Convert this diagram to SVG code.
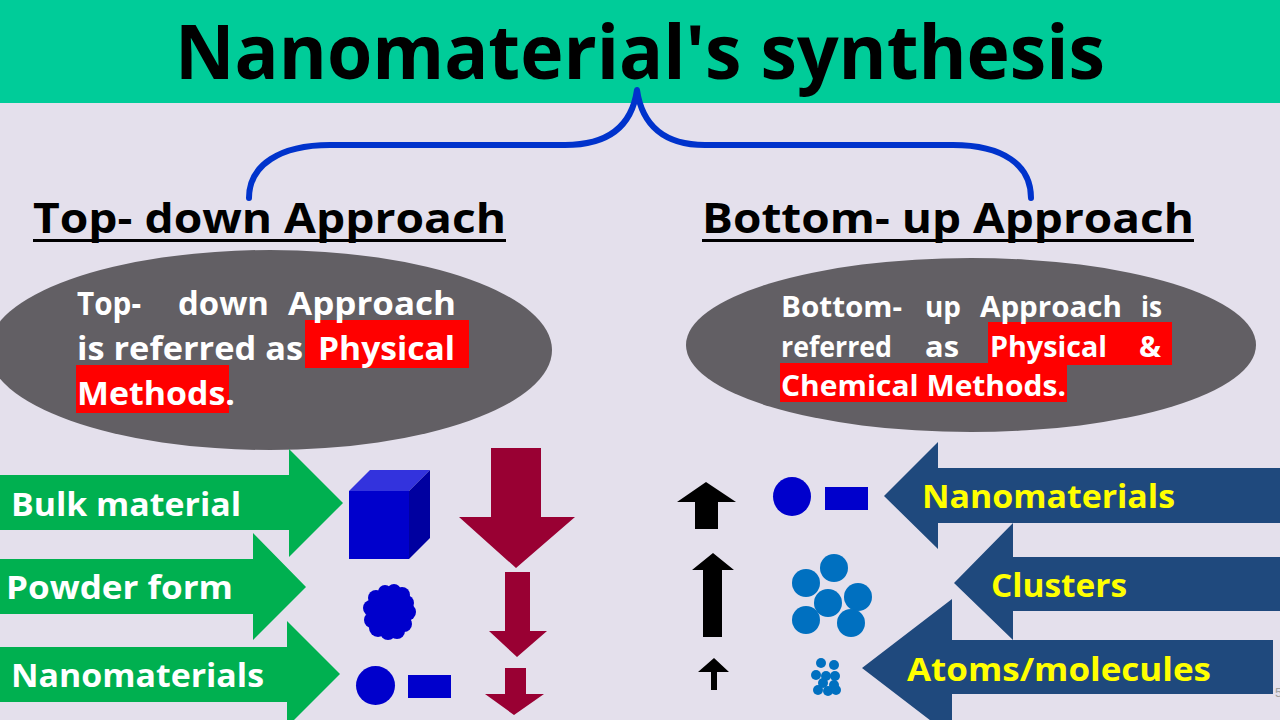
<svg xmlns="http://www.w3.org/2000/svg" width="1280" height="720" viewBox="0 0 1280 720">
  <style>
    .bold { font-family: "Open Sans", "Noto Sans", "Liberation Sans", sans-serif; font-weight: 700; }
    .title { font-size: 76px; fill: #000000; }
    .head { font-size: 42px; fill: #000000; }
    .ell { fill: #625F64; }
    .etxt { fill: #FFFFFF; }
    .hl { fill: #FF0000; }
    .garrow { fill: #00B050; }
    .barrow { fill: #1F497D; }
    .wlbl { font-size: 33px; fill: #FFFFFF; }
    .ylbl { font-size: 33px; fill: #FFFF00; }
    .down { fill: #990033; }
    .up { fill: #000000; }
    .nano { fill: #0000CC; }
    .clu { fill: #0070C0; }
  </style>

  <!-- page -->
  <rect x="0" y="0" width="1280" height="720" fill="#E4E0EC"/>

  <!-- title band -->
  <g id="title">
    <rect x="0" y="0" width="1280" height="103" fill="#00CC99"/>
    <text class="bold title" x="175" y="79" textLength="930" lengthAdjust="spacingAndGlyphs">Nanomaterial's synthesis</text>
  </g>

  <!-- brace splitting the title into the two approaches -->
  <g id="connectors">
    <path d="M249,198 C249,165 280,145 330,145 L565,145 C610,145 632,125 637,90 C642,125 664,145 705,145 L953,145 C1003,145 1031,165 1031,198"
          fill="none" stroke="#0033CC" stroke-width="6" stroke-linecap="round" stroke-linejoin="round"/>
  </g>

  <!-- approach headings -->
  <g id="heading-top-down">
    <text class="bold head" x="33" y="233" textLength="473" lengthAdjust="spacingAndGlyphs">Top- down Approach</text>
    <rect x="33" y="239" width="473" height="3" fill="#000000"/>
  </g>
  <g id="heading-bottom-up">
    <text class="bold head" x="702" y="233" textLength="492" lengthAdjust="spacingAndGlyphs">Bottom- up Approach</text>
    <rect x="702" y="239" width="492" height="3" fill="#000000"/>
  </g>

  <!-- top-down description -->
  <g id="note-top-down">
    <ellipse class="ell" cx="270" cy="350" rx="282" ry="100"/>
    <rect class="hl" x="305" y="320" width="164" height="48"/>
    <rect class="hl" x="76" y="365" width="153" height="48"/>
    <g class="bold etxt" font-size="32">
      <text x="77" y="315" textLength="64" lengthAdjust="spacingAndGlyphs">Top-</text>
      <text x="178" y="315" textLength="91" lengthAdjust="spacingAndGlyphs">down</text>
      <text x="288" y="315" textLength="168" lengthAdjust="spacingAndGlyphs">Approach</text>
      <text x="77" y="360" textLength="226" lengthAdjust="spacingAndGlyphs">is referred as</text>
      <text x="318" y="360" textLength="137" lengthAdjust="spacingAndGlyphs">Physical</text>
      <text x="77" y="405" textLength="158" lengthAdjust="spacingAndGlyphs">Methods.</text>
    </g>
  </g>

  <!-- bottom-up description -->
  <g id="note-bottom-up">
    <ellipse class="ell" cx="971" cy="345" rx="285" ry="87"/>
    <rect class="hl" x="988" y="322" width="184" height="43"/>
    <rect class="hl" x="780" y="363" width="287" height="39"/>
    <g class="bold etxt" font-size="28">
      <text x="781" y="317" textLength="121" lengthAdjust="spacingAndGlyphs">Bottom-</text>
      <text x="925" y="317" textLength="36" lengthAdjust="spacingAndGlyphs">up</text>
      <text x="980" y="317" textLength="142" lengthAdjust="spacingAndGlyphs">Approach</text>
      <text x="1141" y="317" textLength="21" lengthAdjust="spacingAndGlyphs">is</text>
      <text x="781" y="357" textLength="111" lengthAdjust="spacingAndGlyphs">referred</text>
      <text x="925" y="357" textLength="34" lengthAdjust="spacingAndGlyphs">as</text>
      <text x="990" y="357" textLength="117" lengthAdjust="spacingAndGlyphs">Physical</text>
      <text x="1139" y="357" textLength="22" lengthAdjust="spacingAndGlyphs">&amp;</text>
      <text x="781" y="396" textLength="285" lengthAdjust="spacingAndGlyphs">Chemical Methods.</text>
    </g>
  </g>

  <!-- top-down stages (green arrows) -->
  <g id="stage-bulk">
    <polygon class="garrow" points="0,475 289,475 289,449 343,503 289,557 289,530 0,530"/>
    <text class="bold wlbl" x="11" y="516" textLength="230" lengthAdjust="spacingAndGlyphs">Bulk material</text>
  </g>
  <g id="stage-powder">
    <polygon class="garrow" points="0,559 253,559 253,533 306,587 253,640 253,614 0,614"/>
    <text class="bold wlbl" x="6" y="599" textLength="227" lengthAdjust="spacingAndGlyphs">Powder form</text>
  </g>
  <g id="stage-nano-td">
    <polygon class="garrow" points="0,647 287,647 287,621 340,674 287,727 287,702 0,702"/>
    <text class="bold wlbl" x="11" y="687" textLength="253" lengthAdjust="spacingAndGlyphs">Nanomaterials</text>
  </g>

  <!-- bulk block -->
  <g id="shape-cube">
    <polygon points="349,491 370,470 430,470 409,491" fill="#3333DD"/>
    <polygon points="409,491 430,470 430,538 409,559" fill="#0000A0"/>
    <rect x="349" y="491" width="60" height="68" fill="#0000CC"/>
  </g>

  <!-- powder lump: irregular cloud of overlapping grains -->
  <g id="shape-powder" class="nano">
    <ellipse cx="389" cy="612" rx="21" ry="22"/>
    <circle cx="407" cy="612" r="9"/>
    <circle cx="404" cy="624" r="8"/>
    <circle cx="397" cy="631" r="8"/>
    <circle cx="388" cy="632" r="8"/>
    <circle cx="378" cy="628" r="9"/>
    <circle cx="372" cy="620" r="8"/>
    <circle cx="371" cy="608" r="8"/>
    <circle cx="376" cy="598" r="8"/>
    <circle cx="385" cy="592" r="7"/>
    <circle cx="394" cy="591" r="7"/>
    <circle cx="402" cy="595" r="8"/>
    <circle cx="406" cy="603" r="8"/>
  </g>

  <!-- nanoparticles, top-down -->
  <g id="shape-nano-td" class="nano">
    <ellipse cx="375.5" cy="685.5" rx="19.5" ry="19.5"/>
    <rect x="408" y="675" width="43" height="23"/>
  </g>

  <!-- size reduction arrows -->
  <g id="down-arrows" class="down">
    <polygon points="491,448 541,448 541,517 575,517 516,568 459,517 491,517"/>
    <polygon points="505,572 530,572 530,631 547,631 517,657 489,631 505,631"/>
    <polygon points="505,668 526,668 526,694 544,694 514,715 485,694 505,694"/>
  </g>

  <!-- build-up arrows -->
  <g id="up-arrows" class="up">
    <polygon points="706,482 736,502 718,502 718,529 695,529 695,502 677,502"/>
    <polygon points="713,553 734,570 722,570 722,637 703,637 703,570 692,570"/>
    <polygon points="714,658 729,672 717,672 717,690 711,690 711,672 698,672"/>
  </g>

  <!-- nanoparticles, bottom-up -->
  <g id="shape-nano-bu" class="nano">
    <ellipse cx="792" cy="496.5" rx="19" ry="19.5"/>
    <rect x="825" y="487" width="43" height="23"/>
  </g>

  <!-- cluster -->
  <g id="shape-cluster" class="clu">
    <circle cx="834" cy="568" r="14"/>
    <circle cx="806" cy="583" r="14"/>
    <circle cx="858" cy="597" r="14"/>
    <circle cx="828" cy="603" r="14"/>
    <circle cx="806" cy="620" r="14"/>
    <circle cx="851" cy="623" r="14"/>
  </g>

  <!-- atoms -->
  <g id="shape-atoms" class="clu">
    <circle cx="821" cy="663" r="5"/>
    <circle cx="834" cy="665" r="5"/>
    <circle cx="816" cy="675" r="5"/>
    <circle cx="826" cy="676" r="5"/>
    <circle cx="835" cy="676" r="5"/>
    <circle cx="823" cy="683" r="5"/>
    <circle cx="834" cy="685" r="5"/>
    <circle cx="818" cy="690" r="5"/>
    <circle cx="828" cy="691" r="5"/>
    <circle cx="836" cy="690" r="5"/>
  </g>

  <!-- bottom-up stages (blue arrows) -->
  <g id="stage-nano-bu">
    <polygon class="barrow" points="1280,468 938,468 938,442 884,496 938,549 938,523 1280,523"/>
    <text class="bold ylbl" x="922" y="508" textLength="253" lengthAdjust="spacingAndGlyphs">Nanomaterials</text>
  </g>
  <g id="stage-clusters">
    <polygon class="barrow" points="1280,557 1013,557 1013,523 954,583 1013,640 1013,611 1280,611"/>
    <text class="bold ylbl" x="991" y="597" textLength="136" lengthAdjust="spacingAndGlyphs">Clusters</text>
  </g>
  <g id="stage-atoms">
    <polygon class="barrow" points="1273,640 952,640 952,599 862,668 952,737 952,694 1273,694"/>
    <text class="bold ylbl" x="907" y="681" textLength="304" lengthAdjust="spacingAndGlyphs">Atoms/molecules</text>
  </g>

  <!-- slide number -->
  <text x="1275" y="697" font-family="Liberation Sans, sans-serif" font-size="13" fill="#A0A0A0">5</text>
</svg>
